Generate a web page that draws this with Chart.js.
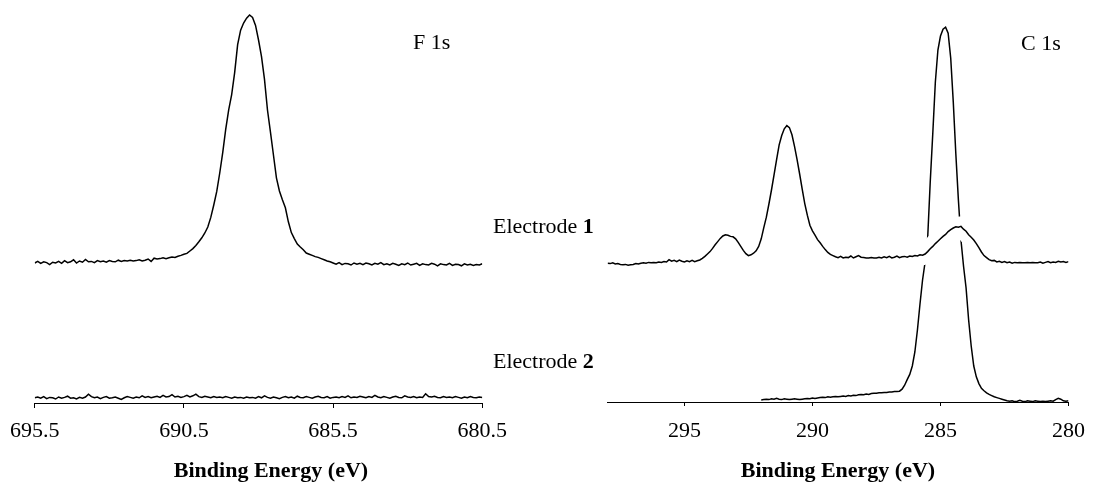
<!DOCTYPE html>
<html>
<head>
<meta charset="utf-8">
<title>XPS F 1s / C 1s</title>
<script src="https://cdn.jsdelivr.net/npm/chart.js@4"></script>
<style>
  html, body { margin: 0; padding: 0; background: #fff; }
  #wrap { position: relative; width: 1097px; height: 485px; overflow: hidden; background: #fff; }
  #f1s { position: absolute; left: 0; top: 0; }
  #c1s { position: absolute; left: 550px; top: 0; }
</style>
</head>
<body>
<div id="wrap">
  <canvas id="f1s" width="600" height="485"></canvas>
  <canvas id="c1s" width="547" height="485"></canvas>
</div>
<script>
// Energy grids (eV): first point and spacing of each scan
const F_START = 695.5;
const C1_START = 298.0;
const C2_START = 292.0;
const STEP = 0.1;

// Axis ticks
const F_TICKS = [695.5, 690.5, 685.5, 680.5];
const C_TICKS = [295, 290, 285, 280];

// F 1s intensity (a.u.), electrode 1 (offset trace) and electrode 2
const F_E1 = [
  35.0,35.4,34.9,35.3,35.1,34.6,35.2,35.0,35.4,34.9,
  35.6,35.1,35.3,35.8,35.0,35.5,35.2,35.9,35.3,35.4,
  35.1,35.6,35.3,35.5,35.2,35.6,35.4,35.3,35.7,35.4,
  35.6,35.5,35.7,35.5,35.6,35.8,35.5,35.7,36.0,35.4,
  36.2,36.0,36.1,36.3,36.1,36.3,36.5,36.4,36.7,36.9,
  37.2,37.4,38.0,38.6,39.4,40.3,41.3,42.5,44.0,46.4,
  49.5,52.9,57.5,62.6,68.4,73.3,77.1,82.6,89.6,93.2,
  95.0,96.2,97.0,96.4,94.4,90.75,86.6,80.9,73.25,67.7,
  62.0,56.3,53.0,50.8,48.8,45.3,42.6,41.1,39.75,39.0,
  38.3,37.5,37.2,36.9,36.6,36.4,36.1,35.8,35.5,35.3,
  35.0,34.7,35.1,34.6,34.9,34.8,34.5,35.0,34.7,34.9,
  34.6,35.0,34.8,34.5,34.9,34.7,35.1,34.6,34.8,34.5,
  34.9,34.7,34.4,34.8,34.6,35.0,34.5,34.7,34.9,34.4,
  34.8,34.6,34.5,34.9,34.7,34.3,34.8,34.6,34.5,34.9,
  34.4,34.7,34.6,34.3,34.8,34.5,34.7,34.4,34.6,34.5,
  34.8
];
const F_E2 = [
  1.3,1.5,1.2,1.6,1.1,1.4,1.3,1.0,1.5,1.2,
  1.4,1.7,1.2,1.3,1.0,1.4,1.2,1.5,2.2,1.6,
  1.3,1.5,1.1,1.4,1.6,1.2,1.3,1.5,1.2,0.9,
  1.3,1.6,1.4,1.2,1.5,1.3,1.8,1.4,1.6,1.3,
  1.5,1.7,1.4,1.9,1.5,1.6,2.1,1.5,1.7,1.4,
  1.6,1.9,1.5,1.8,2.2,1.6,1.4,1.7,1.5,1.3,
  1.6,1.4,1.5,1.3,1.6,1.4,1.2,1.5,1.3,1.4,
  1.2,1.5,1.3,1.4,1.2,1.6,1.3,1.8,1.4,1.2,
  1.5,1.3,1.1,1.4,1.6,1.3,1.5,1.2,1.7,1.4,
  1.3,1.6,1.4,1.2,1.5,1.7,1.4,1.3,1.6,1.2,
  1.4,1.5,1.3,1.6,1.4,1.8,1.3,1.5,1.4,1.7,
  1.5,1.3,1.6,1.4,1.9,1.5,1.3,1.6,1.4,1.2,
  1.5,1.7,1.4,1.3,1.8,1.5,1.4,1.6,1.3,1.5,
  1.4,2.3,1.6,1.5,1.7,1.4,1.3,1.6,1.4,1.5,
  1.3,1.6,1.4,1.2,1.5,1.3,1.6,1.4,1.3,1.5,
  1.4
];

// C 1s intensity (a.u.), electrode 1 (offset trace) and electrode 2
const C_E1 = [
  34.7,34.6,34.8,34.5,34.6,34.4,34.3,34.4,34.2,34.3,
  34.4,34.6,34.5,34.7,34.8,34.7,34.9,34.8,34.9,34.8,
  35.0,34.9,35.1,35.0,35.6,35.2,35.4,35.1,35.5,35.2,
  35.0,35.3,35.1,35.4,35.1,35.3,35.5,35.9,36.4,37.0,
  37.6,38.4,39.3,40.1,40.9,41.5,41.8,41.7,41.4,41.3,
  40.8,39.9,38.9,37.9,37.1,36.6,36.8,37.2,37.8,38.9,
  40.8,43.6,46.2,49.5,53.0,56.8,60.6,64.3,66.6,68.3,
  69.1,68.6,66.8,63.9,60.6,57.0,53.2,49.6,46.7,44.2,
  42.8,41.7,40.6,39.8,38.9,38.1,37.4,36.9,36.6,36.3,
  36.1,36.4,36.0,36.2,36.1,36.5,36.0,36.3,36.6,36.2,
  36.1,36.0,36.0,36.1,36.0,36.0,36.2,36.0,36.3,36.1,
  36.4,36.0,36.2,36.5,36.1,36.3,36.4,36.2,36.5,36.4,
  36.6,36.5,36.8,36.7,37.0,37.6,38.3,38.9,39.6,40.2,
  40.8,41.4,41.9,42.6,43.1,43.5,43.8,43.7,43.9,43.2,
  42.7,41.8,41.2,40.5,39.6,38.6,37.5,36.6,36.1,35.6,
  35.3,35.4,35.0,35.2,34.9,35.1,34.8,35.0,34.7,34.9,
  34.8,34.9,34.8,34.8,34.9,34.8,34.9,34.8,34.8,35.0,
  34.7,34.9,35.1,34.8,35.0,34.9,35.2,35.0,35.1,34.9,
  35.1
];
const C_E2 = [
  0.5,0.6,0.7,0.6,0.8,0.7,0.9,0.7,0.6,0.8,
  0.7,0.6,0.7,0.8,0.7,0.6,0.7,0.8,0.9,0.8,
  1.0,0.9,1.0,1.1,1.2,1.1,1.3,1.2,1.3,1.4,
  1.3,1.4,1.5,1.4,1.6,1.5,1.7,1.6,1.8,1.9,
  1.8,2.0,1.9,2.1,2.2,2.2,2.3,2.3,2.4,2.4,
  2.5,2.5,2.6,2.6,2.7,3.2,4.2,5.6,6.9,9.0,
  12.5,18.0,24.5,30.5,35.0,41.0,55.0,67.2,80.0,88.0,
  91.5,93.2,93.7,92.2,86.0,75.0,62.0,50.5,40.5,34.0,
  28.5,20.5,14.0,9.0,6.3,4.6,3.4,2.8,2.3,1.9,
  1.6,1.3,1.1,0.9,0.7,0.5,0.3,0.2,0.3,0.1,
  0.2,0.4,0.2,0.1,0.3,0.2,0.1,0.3,0.2,0.1,
  0.2,0.1,0.2,0.3,0.2,0.6,0.9,0.7,0.3,0.2,
  0.3
];

const AXIS_TITLE = 'Binding Energy (eV)';

// pair each intensity with its binding energy on the scan grid
function toPoints(start, step, values) {
  return values.map((v, i) => ({ x: +(start - i * step).toFixed(2), y: v }));
}

const SERIF = '"Liberation Serif", "Times New Roman", serif';

// free text drawn over the plot: panel names, trace names, axis titles
const notes = {
  id: 'notes',
  afterDraw(chart, args, opts) {
    const ctx = chart.ctx;
    ctx.save();
    ctx.fillStyle = '#000';
    ctx.textBaseline = 'alphabetic';
    for (const item of opts.items || []) {
      const fontOf = p => ((p.bold || item.bold) ? 'bold ' : '') + '22px ' + SERIF;
      let total = 0;
      for (const part of item.parts) { ctx.font = fontOf(part); total += ctx.measureText(part.t).width; }
      let x = item.center ? item.x - total / 2 : item.x;
      ctx.textAlign = 'left';
      for (const part of item.parts) {
        ctx.font = fontOf(part);
        ctx.fillText(part.t, x, item.y);
        x += ctx.measureText(part.t).width;
      }
    }
    ctx.restore();
  }
};

function energyAxis(lo, hi, ticks, fmt, axisHeight, tickLen, tickPad) {
  return {
    type: 'linear',
    reverse: true,
    min: lo,
    max: hi,
    afterBuildTicks: s => { s.ticks = ticks.map(v => ({ value: v })); },
    afterFit: s => { s.height = axisHeight; },
    grid: { drawOnChartArea: false, drawTicks: true, tickLength: tickLen, color: '#000', lineWidth: 1 },
    border: { display: true, color: '#000', width: 1 },
    ticks: {
      font: { family: SERIF, size: 22 },
      color: '#000',
      padding: tickPad,
      maxRotation: 0,
      autoSkip: false,
      callback: fmt
    },
    title: { display: false }
  };
}

const common = {
  responsive: false,
  animation: false,
  events: [],
  elements: { point: { radius: 0 }, line: { tension: 0 } }
};

// F 1s panel
new Chart(document.getElementById('f1s'), {
  type: 'line',
  data: {
    datasets: [
      { label: 'Electrode 1', data: toPoints(F_START, STEP, F_E1), borderColor: '#000', borderWidth: 1.5, fill: false, order: 0 },
      { label: 'Electrode 2', data: toPoints(F_START, STEP, F_E2), borderColor: '#000', borderWidth: 1.5, fill: false, order: 1 }
    ]
  },
  options: Object.assign({}, common, {
    layout: { padding: { left: 34.4, right: 117.7, top: 3, bottom: 0 } },
    plugins: {
      legend: { display: false },
      tooltip: { enabled: false },
      notes: {
        items: [
          { x: 413, y: 49, parts: [{ t: 'F 1s' }] },
          { x: 493, y: 233, parts: [{ t: 'Electrode ' }, { t: '1', bold: true }] },
          { x: 493, y: 368, parts: [{ t: 'Electrode ' }, { t: '2', bold: true }] },
          { x: 271, y: 477, center: true, bold: true, parts: [{ t: AXIS_TITLE }] }
        ]
      }
    },
    scales: {
      x: energyAxis(680.5, 695.5, F_TICKS, v => v.toFixed(1), 82, 5, 10),
      y: { display: false, min: 0, max: 100 }
    }
  }),
  plugins: [notes]
});

// C 1s panel; electrode 1 carries a white edge so crossings read clearly
new Chart(document.getElementById('c1s'), {
  type: 'line',
  data: {
    datasets: [
      { label: 'Electrode 1', data: toPoints(C1_START, STEP, C_E1), borderColor: '#000', borderWidth: 1.5, fill: false, order: 0 },
      { label: 'Electrode 1 edge', data: toPoints(C1_START, STEP, C_E1), borderColor: '#fff', borderWidth: 20, borderJoinStyle: 'round', fill: false, order: 1 },
      { label: 'Electrode 2', data: toPoints(C2_START, STEP, C_E2), borderColor: '#000', borderWidth: 1.5, fill: false, order: 2 }
    ]
  },
  options: Object.assign({}, common, {
    layout: { padding: { left: 57.6, right: 17, top: 2, bottom: 0 } },
    plugins: {
      legend: { display: false },
      tooltip: { enabled: false },
      notes: {
        items: [
          { x: 471, y: 50, parts: [{ t: 'C 1s' }] },
          { x: 288, y: 477, center: true, bold: true, parts: [{ t: AXIS_TITLE }] }
        ]
      }
    },
    scales: {
      x: energyAxis(280, 298, C_TICKS, v => String(v), 83, 4, 12),
      y: { display: false, min: 0, max: 100 }
    }
  }),
  plugins: [notes]
});
</script>
</body>
</html>
